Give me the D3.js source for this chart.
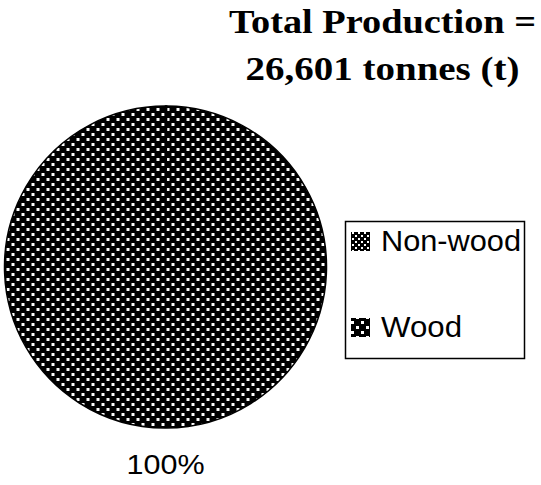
<!DOCTYPE html>
<html><head><meta charset="utf-8">
<script src="https://cdn.jsdelivr.net/npm/d3@7"></script>
<style>html,body{margin:0;padding:0;background:#fff;}svg{display:block;}</style>
</head><body>
<script>
const categories = ["Non-wood", "Wood"];
const values = [30, 26571];
const sliceLabels = ["", "100%"];
const titleLines = ["Total Production =", "26,601 tonnes (t)"];

const W = 541, H = 485;
const svg = d3.select("body").append("svg").attr("width", W).attr("height", H);
const defs = svg.append("defs");

// Wood pattern: black with staggered white dots
const pWood = defs.append("pattern").attr("id", "pWood").attr("patternUnits", "userSpaceOnUse")
  .attr("width", 10).attr("height", 10);
pWood.append("rect").attr("width", 10).attr("height", 10).attr("fill", "#000");
pWood.append("rect").attr("x", 1).attr("y", 1).attr("width", 3).attr("height", 3).attr("fill", "#fff");
pWood.append("rect").attr("x", 6).attr("y", 6).attr("width", 3).attr("height", 3).attr("fill", "#fff");

// Non-wood pattern: denser white blobs
const pNon = defs.append("pattern").attr("id", "pNon").attr("patternUnits", "userSpaceOnUse")
  .attr("width", 6).attr("height", 6);
pNon.append("rect").attr("width", 6).attr("height", 6).attr("fill", "#000");
pNon.append("rect").attr("x", 1).attr("y", 1).attr("width", 2).attr("height", 2).attr("fill", "#fff");
pNon.append("rect").attr("x", 4).attr("y", 4).attr("width", 2).attr("height", 2).attr("fill", "#fff");

const fills = d3.scaleOrdinal().domain(categories).range(["url(#pNon)", "url(#pWood)"]);

const cx = 165.5, cy = 267, r = 161;
const pie = d3.pie().sort(null).value(d => d.v);
const data = categories.map((c, i) => ({c, v: values[i], label: sliceLabels[i]}));
const arcs = pie(data);
const arc = d3.arc().innerRadius(0).outerRadius(r);

const g = svg.append("g").attr("transform", `translate(${cx},${cy})`);
g.selectAll("path").data(arcs).join("path")
  .attr("d", arc).attr("fill", d => fills(d.data.c))
  .attr("stroke", "#000").attr("stroke-width", 1.5);

// slice label below pie
arcs.forEach(a => {
  if (!a.data.label) return;
  svg.append("text").attr("x", cx).attr("y", 474)
    .attr("text-anchor", "middle")
    .attr("font-family", "Liberation Sans, Arial, sans-serif").attr("font-size", 27)
    .attr("textLength", 78).attr("lengthAdjust", "spacingAndGlyphs")
    .text(a.data.label);
});

// title
const tl = [[33, 307], [80, 274]];
titleLines.forEach((t, i) => {
  svg.append("text").attr("x", 382.5).attr("y", tl[i][0]).attr("text-anchor", "middle")
    .attr("font-family", "Liberation Serif, Times New Roman, serif").attr("font-weight", "bold")
    .attr("font-size", 34).attr("textLength", tl[i][1]).attr("lengthAdjust", "spacingAndGlyphs")
    .text(t);
});

// legend
svg.append("rect").attr("x", 345.5).attr("y", 221.5).attr("width", 179).attr("height", 137)
  .attr("fill", "#fff").attr("stroke", "#000").attr("stroke-width", 1.5);
const ly = [232, 318];
const tw = [140, 81];
categories.forEach((c, i) => {
  svg.append("rect").attr("x", 351).attr("y", ly[i]).attr("width", 19).attr("height", 19)
    .attr("fill", fills(c));
  svg.append("text").attr("x", 381).attr("y", ly[i] + 19)
    .attr("font-family", "Liberation Sans, Arial, sans-serif").attr("font-size", 29)
    .attr("textLength", tw[i]).attr("lengthAdjust", "spacingAndGlyphs")
    .text(c);
});
</script>
</body></html>
